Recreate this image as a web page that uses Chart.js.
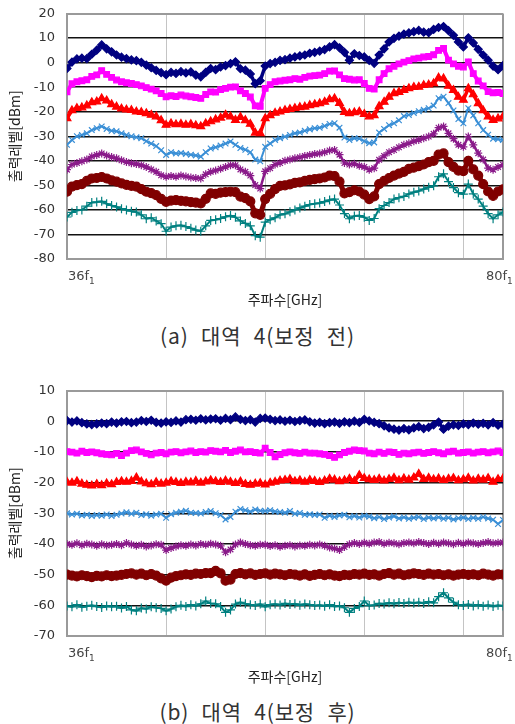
<!DOCTYPE html>
<html>
<head>
<meta charset="utf-8">
<script src="https://cdn.jsdelivr.net/npm/chart.js@4"></script>
<style>
  body { margin: 0; background: #fff; width: 515px; height: 724px; position: relative; overflow: hidden; }
  .box { position: absolute; left: 0; width: 515px; height: 310px; }
  .cap { position: absolute; left: 0; width: 515px; text-align: center; font: 21px 'Noto Sans CJK KR', sans-serif; line-height: 24px; color: #333; word-spacing: 7px; letter-spacing: 0.8px; }
</style>
</head>
<body>
<div class="box" style="top:0"><canvas id="chartA"></canvas></div>
<div class="cap" style="top:323px">(a) 대역 4(보정 전)</div>
<div class="box" style="top:377px"><canvas id="chartB"></canvas></div>
<div class="cap" style="top:699px">(b) 대역 4(보정 후)</div>
<script>
// frequency points (x), 36f1 .. 80f1
const freqs = [
  36, 36.5, 37, 37.5, 38, 38.5, 39, 39.5, 40, 40.5,
  41, 41.5, 42, 42.5, 43, 43.5, 44, 44.5, 45, 45.5,
  46, 46.5, 47, 47.5, 48, 48.5, 49, 49.5, 50, 50.5,
  51, 51.5, 52, 52.5, 53, 53.5, 54, 54.5, 55, 55.5,
  56, 56.5, 57, 57.5, 58, 58.5, 59, 59.5, 60, 60.5,
  61, 61.5, 62, 62.5, 63, 63.5, 64, 64.5, 65, 65.5,
  66, 66.5, 67, 67.5, 68, 68.5, 69, 69.5, 70, 70.5,
  71, 71.5, 72, 72.5, 73, 73.5, 74, 74.5, 75, 75.5,
  76, 76.5, 77, 77.5, 78, 78.5, 79, 79.5, 80
];
const xGridTicks = [36, 46, 56, 66, 76, 80];
const xEndLabels = ['36f', '80f'];
const xEndSub = '1';

// (a) before correction
const aNavy = [
  -2.4, 0.2, 1.5, 1.8, 1.6, 3.4, 5.1, 7.2, 5.6, 4.4,
  3.1, 2.2, 1.6, 1.1, 0.8, 0.1, -1.0, -2.1, -3.2, -4.1,
  -4.9, -4.0, -4.4, -3.7, -4.2, -3.8, -5.1, -5.8, -4.0, -2.4,
  -2.9, -1.8, -1.2, -0.4, 0.3, -2.5, -3.1, -4.6, -8.6, -7.4,
  -1.4, -0.4, 0.1, 0.9, 1.2, 1.8, 2.3, 2.7, 3.1, 3.8,
  4.2, 4.7, 5.3, 6.4, 7.3, 6.0, 4.2, 1.0, 3.6, 2.9,
  2.3, 0.9, -0.3, 3.1, 5.6, 8.4, 9.9, 10.8, 11.6, 12.1,
  12.6, 13.1, 12.4, 12.2, 13.5, 14.3, 14.7, 13.0, 11.1, 8.4,
  6.4, 10.1, 8.0, 5.4, 3.1, 1.0, -1.4, -2.9, -1.2
];
const aMagenta = [
  -11.9, -8.6, -7.8, -7.4, -7.0, -5.6, -5.0, -3.3, -4.8, -6.0,
  -7.1, -7.8, -8.2, -8.5, -9.0, -9.5, -10.2, -10.8, -11.5, -12.6,
  -13.9, -13.5, -13.8, -13.2, -13.6, -13.9, -14.2, -14.6, -13.0, -11.9,
  -12.0, -11.0, -10.5, -10.0, -9.9, -11.5, -12.6, -14.0, -17.6, -17.8,
  -10.5, -9.0, -7.8, -7.5, -7.2, -7.0, -6.5, -6.8, -6.0, -5.5,
  -5.3, -5.1, -4.5, -3.5, -3.4, -5.0, -6.5, -6.8, -7.1, -7.0,
  -8.5, -10.5, -10.8, -7.0, -4.5, -2.5, -1.5, -0.5, 0.2, 0.8,
  1.5, 1.8, 2.3, 2.5, 3.2, 5.0, 5.8, 1.0, -0.5, -1.5,
  -1.8, 0.3, -4.5, -7.5, -9.5, -11.8, -12.3, -12.2, -12.6
];
const aRed = [
  -22.7, -19.5, -18.6, -18.3, -17.5, -16.2, -15.9, -14.6, -15.5, -17.0,
  -18.0, -18.8, -19.2, -19.4, -20.0, -20.2, -20.7, -21.3, -22.0, -23.5,
  -25.4, -24.8, -25.2, -25.0, -25.4, -25.1, -25.6, -26.0, -24.8, -24.0,
  -23.2, -22.5, -21.3, -22.0, -23.4, -22.2, -23.5, -25.0, -28.6, -28.8,
  -22.7, -21.5, -20.5, -20.0, -19.4, -19.0, -18.6, -18.2, -18.0, -17.4,
  -17.0, -16.6, -16.0, -15.0, -14.6, -16.5, -20.2, -20.7, -20.3, -20.0,
  -21.0, -22.0, -21.5, -17.8, -16.0, -14.0, -12.5, -12.0, -11.2, -10.5,
  -10.0, -9.9, -9.2, -9.0, -8.5, -6.2, -6.5, -9.5, -11.2, -14.0,
  -15.2, -10.5, -13.0, -16.6, -19.5, -22.0, -23.4, -22.8, -22.0
];
const aBlue = [
  -33.5, -31.5, -30.0, -29.5, -28.8, -27.5, -26.7, -26.0, -27.0, -27.8,
  -28.0, -28.8, -29.5, -30.0, -30.4, -30.8, -32.0, -33.0, -34.0, -35.7,
  -37.6, -36.5, -37.0, -36.8, -37.2, -37.5, -37.8, -38.3, -36.5, -35.0,
  -34.5, -33.8, -33.0, -32.1, -33.5, -34.8, -35.5, -36.5, -39.5, -40.2,
  -34.3, -33.0, -31.5, -30.8, -30.2, -29.5, -28.8, -28.5, -27.8, -27.2,
  -26.7, -26.5, -25.8, -25.0, -24.7, -26.5, -30.5, -31.5, -30.8, -31.0,
  -32.0, -32.8, -32.5, -28.5, -27.0, -25.5, -24.7, -23.5, -21.8, -21.3,
  -20.5, -19.8, -19.2, -18.6, -17.5, -14.5, -13.9, -16.5, -19.5, -23.0,
  -24.7, -18.6, -21.5, -24.7, -27.5, -29.4, -31.0, -31.2, -31.5
];
const aPurple = [
  -43.6, -41.5, -40.9, -40.2, -39.5, -38.2, -37.6, -37.0, -37.8, -38.5,
  -39.0, -39.8, -40.5, -41.0, -41.3, -41.8, -42.5, -43.5, -44.5, -45.9,
  -46.5, -46.2, -46.5, -46.0, -46.4, -46.8, -47.0, -47.2, -45.5, -44.5,
  -44.0, -43.2, -42.5, -41.8, -41.8, -43.5, -44.5, -46.0, -49.9, -51.3,
  -44.3, -43.0, -41.5, -40.9, -40.0, -39.5, -39.0, -38.6, -38.0, -37.6,
  -37.2, -37.0, -36.5, -35.8, -35.6, -37.5, -40.9, -41.5, -41.2, -42.0,
  -42.5, -43.6, -43.0, -39.6, -38.0, -36.5, -35.6, -34.5, -33.5, -32.9,
  -32.0, -31.5, -30.8, -30.1, -29.0, -26.5, -26.0, -28.8, -31.0, -33.5,
  -34.3, -30.1, -33.5, -36.9, -39.5, -43.0, -43.6, -42.5, -41.6
];
const aMaroon = [
  -52.6, -50.5, -49.9, -49.5, -48.2, -47.2, -47.0, -46.6, -47.2, -48.0,
  -48.5, -49.2, -49.8, -50.2, -50.5, -51.5, -52.6, -53.2, -54.0, -55.5,
  -56.7, -56.2, -56.0, -56.3, -56.5, -56.8, -57.0, -57.4, -55.5, -53.3,
  -53.5, -53.0, -52.8, -52.6, -52.8, -54.6, -55.2, -56.5, -61.4, -62.0,
  -55.6, -53.5, -51.5, -50.2, -50.0, -49.6, -49.0, -48.8, -48.2, -47.8,
  -47.5, -47.2, -46.8, -46.0, -46.2, -48.5, -53.3, -52.8, -52.0, -52.5,
  -53.8, -55.6, -54.5, -49.5, -48.2, -47.0, -46.0, -45.2, -44.5, -43.3,
  -42.8, -42.2, -41.5, -40.5, -40.0, -37.5, -37.0, -40.5, -42.5, -44.0,
  -44.2, -40.0, -43.5, -46.0, -49.5, -52.5, -54.3, -52.5, -51.6
];
const aTeal = [
  -62.9, -61.0, -60.2, -60.0, -58.5, -57.0, -56.8, -56.5, -57.5, -58.2,
  -58.8, -59.5, -60.0, -60.5, -60.9, -62.0, -63.6, -63.2, -64.5, -65.6,
  -68.7, -67.0, -66.5, -66.3, -66.8, -67.5, -68.2, -68.7, -66.5, -64.3,
  -64.0, -63.5, -62.8, -62.3, -63.0, -64.5, -65.5, -66.5, -70.5, -71.1,
  -65.0, -64.0, -63.2, -62.0, -61.6, -60.8, -60.0, -59.2, -58.5, -57.8,
  -57.5, -57.2, -56.6, -56.0, -55.6, -58.0, -61.5, -63.6, -62.5, -62.3,
  -63.0, -64.3, -63.5, -59.5, -58.2, -57.0, -55.6, -55.0, -54.5, -53.5,
  -52.8, -52.3, -51.5, -50.8, -50.2, -46.5, -45.3, -48.5, -50.9, -53.0,
  -53.6, -49.5, -53.5, -55.6, -58.5, -61.5, -63.6, -62.0, -60.9
];

// (b) after correction
const bNavy = [
  0.2, -0.3, 0.1, -0.5, -0.9, -1.1, -0.9, -0.6, -0.8, -0.3,
  -0.6, -0.2, -0.1, -0.5, -0.3, 0.2, -0.1, 0.3, -0.4, -0.6,
  -0.2, -0.4, 0.1, -0.3, 0.5, 0.6, 0.3, 0.8, 0.4, 0.7,
  0.8, 0.3, 0.9, 0.5, 1.4, 0.6, 0.2, 0.5, -0.3, 0.9,
  1.0, 0.6, 0.2, 0.4, 0.0, 0.3, -0.1, 0.2, 0.4, -0.2,
  -0.6, -0.4, -0.8, -0.5, -0.3, -0.7, -0.2, -0.5, 0.0, -0.4,
  0.6, 0.1, -0.4, -0.8, -1.5, -2.2, -2.6, -2.9, -2.4, -2.8,
  -2.2, -1.8, -2.4, -2.0, -1.2, -0.3, -2.6, -1.6, -1.2, -1.4,
  -0.9, -1.1, -0.6, -1.0, -0.7, -1.2, -0.5, -1.3, -1.0
];
const bMagenta = [
  -9.9, -10.1, -10.4, -9.8, -10.2, -10.0, -10.3, -10.6, -10.8, -11.0,
  -10.5, -11.2, -10.4, -9.6, -9.4, -10.0, -10.5, -11.0, -10.4, -10.2,
  -10.6, -10.1, -9.9, -10.3, -10.0, -9.7, -10.2, -9.9, -10.1, -9.6,
  -9.8, -10.0, -9.5, -10.2, -9.8, -9.4, -10.0, -9.9, -10.2, -10.4,
  -8.8, -10.2, -11.6, -10.9, -10.3, -10.0, -10.3, -10.5, -10.1, -10.4,
  -10.4, -10.6, -10.8, -11.2, -11.8, -11.0, -10.2, -9.8, -9.4, -9.6,
  -9.7, -10.4, -10.6, -10.1, -10.5, -10.0, -10.2, -10.8, -10.4, -10.6,
  -10.3, -10.1, -10.5, -10.2, -9.9, -10.3, -10.6, -10.0, -9.8, -10.4,
  -10.2, -10.0, -10.4, -10.1, -9.9, -10.3, -10.0, -9.7, -10.2
];
const bRed = [
  -19.8, -20.1, -19.6, -20.4, -20.8, -21.0, -20.5, -20.9, -20.3, -20.6,
  -19.9, -19.6, -19.8, -19.5, -18.4, -19.7, -20.3, -20.6, -19.9, -20.4,
  -20.1, -19.6, -19.9, -20.2, -19.8, -20.0, -19.5, -20.1, -19.7, -19.3,
  -19.6, -19.9, -19.4, -19.8, -20.2, -19.7, -20.5, -20.8, -20.4, -20.2,
  -20.7, -20.1, -19.8, -19.4, -19.2, -18.9, -19.6, -19.3, -19.8, -19.2,
  -19.5, -19.9, -19.4, -18.8, -19.1, -19.6, -19.3, -18.8, -19.5, -17.6,
  -18.6, -19.0, -19.2, -18.8, -19.4, -18.9, -18.5, -19.3, -18.7, -19.1,
  -18.4, -17.2, -18.9, -18.5, -19.0, -18.7, -19.2, -18.8, -18.6, -19.3,
  -19.0, -18.5, -19.4, -18.8, -19.1, -18.6, -19.8, -18.9, -18.7
];
const bBlue = [
  -30.0, -30.4, -30.2, -30.7, -30.5, -30.9, -30.6, -30.8, -30.4, -30.9,
  -30.5, -30.1, -29.7, -30.2, -29.8, -30.6, -30.3, -30.8, -30.4, -30.2,
  -31.5, -30.3, -29.8, -29.5, -29.2, -29.8, -29.9, -30.1, -29.6, -29.3,
  -30.0, -30.6, -32.0, -31.2, -29.5, -28.6, -29.0, -29.5, -28.8, -29.2,
  -29.3, -29.0, -29.4, -29.6, -29.8, -29.3, -30.2, -29.9, -30.5, -30.3,
  -30.6, -30.4, -31.5, -30.8, -31.2, -30.7, -30.5, -31.3, -30.9, -31.4,
  -30.8, -31.1, -31.6, -31.2, -31.9, -31.4, -31.0, -31.7, -31.3, -31.8,
  -31.5, -31.2, -31.9, -31.4, -31.7, -31.3, -31.8, -31.5, -32.0, -31.6,
  -31.4, -31.9, -31.5, -31.8, -31.2, -31.7, -32.1, -33.5, -32.2
];
const bPurple = [
  -40.0, -40.3, -39.8, -40.4, -39.9, -40.2, -40.6, -40.1, -40.5, -40.3,
  -40.0, -40.4, -39.7, -40.2, -40.6, -40.3, -40.8, -40.5, -40.1, -40.3,
  -42.0, -41.3, -40.8, -40.4, -40.6, -40.2, -40.5, -40.0, -40.3, -39.9,
  -40.2, -40.6, -42.7, -41.8, -40.2, -39.5, -40.0, -40.4, -40.6, -40.3,
  -40.3, -40.7, -40.4, -40.9, -40.6, -40.4, -40.8, -40.5, -40.6, -40.3,
  -40.5, -40.2, -40.6, -41.2, -41.5, -42.0, -41.0, -40.1, -39.7, -40.0,
  -39.6, -39.9, -39.5, -39.4, -39.9, -39.6, -39.8, -40.1, -39.7, -39.5,
  -39.8, -39.4, -39.7, -40.0, -39.6, -39.9, -39.5, -39.8, -40.1, -39.6,
  -39.9, -39.5, -39.8, -40.0, -39.7, -39.4, -39.8, -39.6, -39.5
];
const bMaroon = [
  -50.0, -50.3, -50.6, -50.2, -50.5, -50.8, -50.4, -50.6, -50.2, -50.5,
  -50.3, -50.1, -49.8, -49.6, -50.0, -49.7, -50.2, -49.8, -50.3, -51.2,
  -52.0, -51.0, -50.5, -50.2, -49.9, -50.1, -49.7, -49.8, -49.5, -49.5,
  -48.8, -49.6, -52.0, -51.6, -49.8, -49.5, -49.9, -49.6, -50.1, -49.8,
  -49.6, -50.0, -49.7, -49.9, -50.2, -49.8, -50.0, -50.3, -49.9, -50.4,
  -50.1, -49.8, -50.2, -49.9, -50.3, -50.5, -50.1, -50.2, -49.8, -50.0,
  -49.7, -50.1, -49.9, -50.3, -49.8, -49.5, -50.0, -49.7, -50.2, -49.9,
  -49.6, -49.8, -50.1, -49.7, -50.0, -49.8, -50.2, -49.9, -50.3, -50.0,
  -49.8, -50.1, -49.9, -50.2, -49.7, -50.0, -50.3, -49.9, -50.0
];
const bTeal = [
  -60.2, -60.5, -59.8, -60.6, -60.3, -60.0, -60.4, -60.7, -60.2, -60.5,
  -60.3, -60.9, -60.4, -61.5, -61.8, -60.9, -61.2, -60.5, -60.8, -61.0,
  -61.8, -61.2, -60.5, -60.0, -60.4, -59.8, -60.2, -59.5, -58.6, -59.4,
  -59.5, -60.4, -62.3, -61.5, -59.6, -59.0, -59.5, -59.8, -60.1, -59.6,
  -60.5, -59.8, -59.6, -59.9, -59.4, -59.7, -59.5, -60.0, -59.6, -59.8,
  -60.1, -59.9, -60.3, -59.8, -60.4, -60.2, -60.8, -62.3, -61.0, -60.4,
  -58.6, -60.1, -59.9, -59.4, -59.6, -59.2, -59.5, -59.1, -59.4, -59.0,
  -59.3, -59.0, -59.4, -58.8, -59.2, -57.2, -55.9, -57.6, -59.0, -59.8,
  -60.1, -59.7, -60.2, -59.8, -60.3, -59.9, -60.4, -60.0, -60.2
];

const FONT = "'DejaVu Sans', 'Noto Sans CJK KR', sans-serif";
const KFONT = "'Noto Sans CJK KR', sans-serif";

// marker look of each series, same order in both charts
const seriesStyle = [
  { color: '#000080', pointStyle: 'rectRot', radius: 4, fill: true, line: 3.5 },
  { color: '#ff00ff', pointStyle: 'rect', radius: 4, fill: true, line: 4 },
  { color: '#ff0000', pointStyle: 'triangle', radius: 4.5, fill: true, line: 3.5 },
  { color: '#3a8fd6', pointStyle: 'crossRot', radius: 4, fill: false, line: 2 },
  { color: '#8a1a8a', pointStyle: 'star', radius: 4, fill: false, line: 2.5 },
  { color: '#800000', pointStyle: 'circle', radius: 4.5, fill: true, line: 5 },
  { color: '#008080', pointStyle: 'cross', radius: 4.5, fill: false, line: 2 }
];

const endLabels = {
  id: 'endLabels',
  afterDraw(chart) {
    const { ctx, chartArea } = chart;
    const y = chartArea.bottom + 21;
    ctx.save();
    ctx.fillStyle = '#444';
    ctx.textBaseline = 'alphabetic';
    const xs = [chartArea.left + 1, chartArea.right - 17];
    xEndLabels.forEach((txt, i) => {
      ctx.font = '13px ' + FONT;
      ctx.fillText(txt, xs[i], y);
      const w = ctx.measureText(txt).width;
      ctx.font = '9px ' + FONT;
      ctx.fillText(xEndSub, xs[i] + w, y + 4);
    });
    ctx.restore();
  }
};

function drawChart(id, seriesList, yMin, yMax) {
  const datasets = seriesList.map((vals, i) => {
    const s = seriesStyle[i];
    return {
      data: freqs.map((f, k) => ({ x: f, y: vals[k] })),
      borderColor: s.color,
      backgroundColor: s.color,
      borderWidth: s.line,
      pointStyle: s.pointStyle,
      pointRadius: s.radius,
      pointBorderWidth: 1.2,
      pointBackgroundColor: s.fill ? s.color : 'transparent',
      pointBorderColor: s.color,
      tension: 0
    };
  });

  new Chart(document.getElementById(id), {
    type: 'line',
    data: { datasets: datasets },
    options: {
      responsive: true,
      maintainAspectRatio: false,
      animation: false,
      layout: { padding: { top: 0, right: 12, bottom: 0, left: 0 } },
      plugins: {
        legend: { display: false },
        tooltip: { enabled: false }
      },
      scales: {
        x: {
          type: 'linear',
          min: 36,
          max: 80,
          afterBuildTicks(scale) {
            scale.ticks = xGridTicks.map(v => ({ value: v }));
          },
          afterFit(scale) { scale.height = 51; },
          ticks: { display: false },
          grid: {
            drawTicks: false,
            color: ctx => ctx.tick && ctx.tick.value === 80 ? '#9a9a9a' : '#c4c4c4',
            lineWidth: ctx => ctx.tick && ctx.tick.value === 80 ? 2 : 1
          },
          border: { display: true, color: '#9a9a9a', width: 2 },
          title: {
            display: true,
            text: '주파수[GHz]',
            color: '#222',
            font: { family: KFONT, size: 14 },
            padding: { top: 0, bottom: 2 }
          }
        },
        y: {
          min: yMin,
          max: yMax,
          afterFit(scale) {
            scale.width = 67;
            scale.paddingTop = 13.5;
            scale.paddingBottom = 0;
          },
          ticks: {
            stepSize: 10,
            color: '#333',
            padding: 12,
            font: { family: FONT, size: 13 }
          },
          grid: {
            drawTicks: false,
            color: ctx => ctx.tick && (ctx.tick.value === yMax || ctx.tick.value === yMin) ? '#9a9a9a' : '#111',
            lineWidth: ctx => ctx.tick && ctx.tick.value === yMax ? 2 : 1.4
          },
          border: { display: true, color: '#9a9a9a', width: 2 },
          title: {
            display: true,
            text: '출력레벨[dBm]',
            color: '#222',
            font: { family: KFONT, size: 14 },
            padding: { top: 6, bottom: 0 }
          }
        }
      }
    },
    plugins: [endLabels]
  });
}

drawChart('chartA', [aNavy, aMagenta, aRed, aBlue, aPurple, aMaroon, aTeal], -80, 20);
drawChart('chartB', [bNavy, bMagenta, bRed, bBlue, bPurple, bMaroon, bTeal], -70, 10);
</script>
</body>
</html>
